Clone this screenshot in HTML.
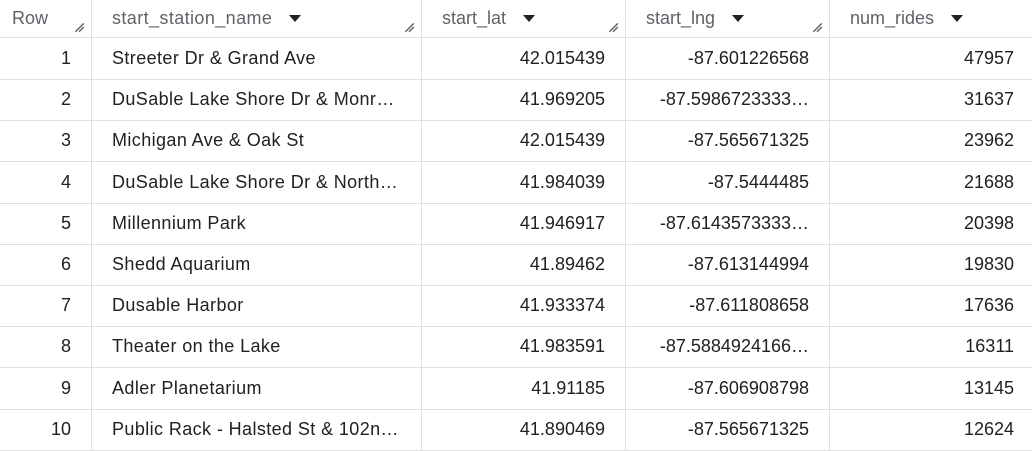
<!DOCTYPE html>
<html><head><meta charset="utf-8"><style>
body{margin:0;width:1032px;height:446px;overflow:hidden;background:#fff;font-family:"Liberation Sans",Arial,sans-serif;}
.t{position:absolute;left:0;top:0;width:1032px;}
.row{position:absolute;left:0;width:1032px;height:41px;border-bottom:1px solid #e0e0e0;}
.c{position:absolute;top:0;height:100%;box-sizing:border-box;border-right:1px solid #e0e0e0;font-size:18px;color:#202124;display:flex;align-items:center;white-space:nowrap;overflow:hidden;}
.h .c{color:#5f6368;}
.r{justify-content:flex-end;padding-right:20px;}
.l{padding-left:20px;}
.nm{letter-spacing:0.4px;}
.arrow{display:inline-block;width:0;height:0;border-left:6px solid transparent;border-right:6px solid transparent;border-top:7px solid #202124;margin-left:17px;}
.grip{position:absolute;right:6px;bottom:4px;width:12px;height:12px;}
</style></head><body>
<div class="t">
<div class="row h" style="top:0;height:37px">
 <div class="c l" style="left:0;width:92px;padding-left:12px">Row<svg class="grip" viewBox="0 0 10 10"><path d="M2 9L9 2M5 9L9 5" stroke="#5f6368" stroke-width="1.2"/></svg></div>
 <div class="c l nm" style="left:92px;width:330px">start_station_name<span class="arrow"></span><svg class="grip" viewBox="0 0 10 10"><path d="M2 9L9 2M5 9L9 5" stroke="#5f6368" stroke-width="1.2"/></svg></div>
 <div class="c l" style="left:422px;width:204px">start_lat<span class="arrow"></span><svg class="grip" viewBox="0 0 10 10"><path d="M2 9L9 2M5 9L9 5" stroke="#5f6368" stroke-width="1.2"/></svg></div>
 <div class="c l" style="left:626px;width:204px">start_lng<span class="arrow"></span><svg class="grip" viewBox="0 0 10 10"><path d="M2 9L9 2M5 9L9 5" stroke="#5f6368" stroke-width="1.2"/></svg></div>
 <div class="c l" style="left:830px;width:202px;border-right:none">num_rides<span class="arrow"></span></div>
</div>
<div id="body"></div>
</div>
<script>
const names=["Streeter Dr & Grand Ave","DuSable Lake Shore Dr & Monr…","Michigan Ave & Oak St","DuSable Lake Shore Dr & North…","Millennium Park","Shedd Aquarium","Dusable Harbor","Theater on the Lake","Adler Planetarium","Public Rack - Halsted St & 102n…"];
const lats=["42.015439","41.969205","42.015439","41.984039","41.946917","41.89462","41.933374","41.983591","41.91185","41.890469"];
const lngs=["-87.601226568","-87.5986723333…","-87.565671325","-87.5444485","-87.6143573333…","-87.613144994","-87.611808658","-87.5884924166…","-87.606908798","-87.565671325"];
const rides=[47957,31637,23962,21688,20398,19830,17636,16311,13145,12624];
const body=document.getElementById('body');
names.forEach((n,i)=>{
 const r=document.createElement('div');
 r.className='row';
 r.style.top=(38+i*41.2)+'px';
 
 
 r.innerHTML=`<div class="c r" style="left:0;width:92px">${i+1}</div>`+
 `<div class="c l nm" style="left:92px;width:330px">${n.replace(/&/g,'&amp;')}</div>`+
 `<div class="c r" style="left:422px;width:204px">${lats[i]}</div>`+
 `<div class="c r" style="left:626px;width:204px">${lngs[i]}</div>`+
 `<div class="c r" style="left:830px;width:202px;border-right:none;padding-right:18px">${rides[i]}</div>`;
 body.appendChild(r);
});
</script>
</body></html>
